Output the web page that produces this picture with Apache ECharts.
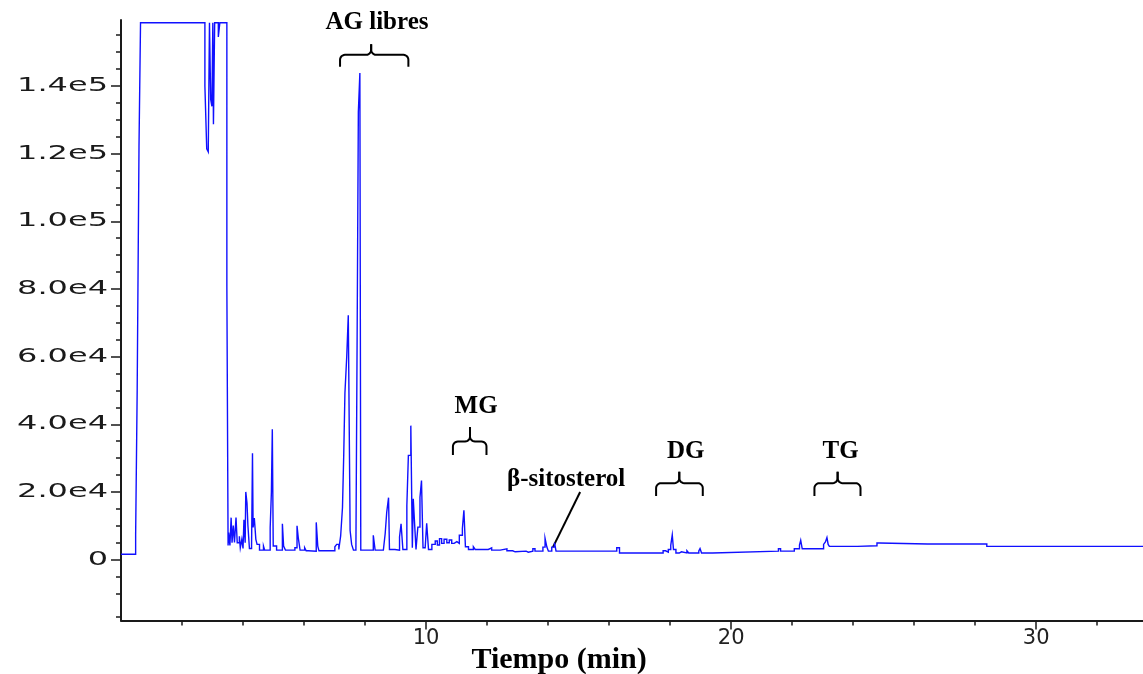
<!DOCTYPE html>
<html>
<head>
<meta charset="utf-8">
<script src="https://cdn.jsdelivr.net/npm/echarts@6/dist/echarts.min.js"></script>
<style>
  html, body { margin: 0; padding: 0; background: #fff; }
  #chart { width: 1143px; height: 674px; }
</style>
</head>
<body>
<div id="chart"></div>
<script>
// Retention time (min) of each step of the detector trace
const times = [
  0.00, 0.48, 0.53, 0.59, 0.64, 2.75, 2.81, 2.86, 2.90, 2.94, 2.98, 3.01, 3.03, 3.07, 3.19, 3.24,
  3.47, 3.51, 3.53, 3.57, 3.61, 3.64, 3.68, 3.72, 3.77, 3.81, 3.88, 3.91, 3.96, 4.00, 4.03, 4.07,
  4.09, 4.13, 4.16, 4.21, 4.28, 4.31, 4.33, 4.37, 4.42, 4.46, 4.54, 4.67, 4.71, 4.89, 4.93, 4.96,
  4.99, 5.10, 5.29, 5.33, 5.39, 5.70, 5.77, 5.81, 5.87, 6.02, 6.07, 6.14, 6.40, 6.45, 6.49, 7.01,
  7.07, 7.14, 7.20, 7.26, 7.30, 7.34, 7.40, 7.45, 7.51, 7.56, 7.62, 7.70, 7.74, 7.78, 7.83, 7.86,
  8.27, 8.33, 8.60, 8.66, 8.71, 8.77, 8.80, 8.98, 9.04, 9.13, 9.18, 9.24, 9.37, 9.42, 9.50, 9.55,
  9.58, 9.63, 9.67, 9.73, 9.80, 9.85, 9.90, 9.97, 10.02, 10.08, 10.19, 10.30, 10.37, 10.44, 10.51, 10.59,
  10.68, 10.76, 10.84, 10.92, 11.01, 11.09, 11.19, 11.24, 11.29, 11.39, 11.55, 11.61, 12.04, 12.15, 12.43, 12.65,
  12.84, 12.92, 13.28, 13.35, 13.50, 13.57, 13.83, 13.90, 13.96, 14.01, 14.12, 14.21, 14.26, 16.25, 16.34, 17.07,
  17.13, 17.63, 17.69, 17.77, 17.85, 17.94, 18.02, 18.07, 18.11, 18.19, 18.30, 18.37, 18.55, 18.61, 18.94, 18.98,
  19.03, 19.39, 21.55, 21.62, 22.07, 22.24, 22.28, 22.33, 23.03, 23.09, 23.14, 23.18, 23.22, 24.14, 24.78, 24.86,
  26.44, 26.50, 28.38, 33.50
];

// Detector response (counts) held from each time until the next one
const signal = [
  1600, 7400, 49700, 122000, 158700, 140000, 121400, 120500, 158700, 136000, 134000, 158700, 128700, 158700, 154500, 158700,
  81000, 4200, 8000, 4200, 12400, 5000, 10100, 5100, 12400, 5000, 6900, 3500, 6000, 3300, 11800, 5000,
  20000, 16700, 10100, 3300, 4000, 31400, 9500, 12300, 6000, 4500, 2800, 4000, 2800, 9500, 20000, 38500,
  4000, 2800, 10600, 4000, 2800, 3500, 10000, 6500, 2800, 3500, 2600, 2500, 11000, 4000, 2600, 3800,
  4500, 3000, 7000, 15400, 30600, 49200, 60100, 72200, 8600, 4500, 2800, 3500, 65600, 132300, 143800, 2800,
  7200, 2800, 3000, 7700, 14000, 18300, 3000, 3500, 2800, 6700, 10600, 3000, 16000, 30800, 39600, 3500,
  18000, 9600, 3000, 9600, 18400, 23400, 3500, 3000, 10700, 3000, 4500, 5500, 4300, 6200, 4800, 6000,
  5000, 5800, 4800, 5300, 4800, 7200, 9200, 14600, 3800, 3000, 3800, 3000, 3500, 2800, 3200, 2600,
  2300, 2500, 2200, 2500, 3200, 2500, 3700, 6300, 3700, 2500, 3700, 5000, 2500, 3500, 1950, 2300,
  1950, 2300, 1950, 2600, 2200, 3000, 4200, 7300, 3000, 1950, 2300, 1950, 2600, 1950, 2600, 3300,
  1950, 2500, 3200, 2500, 3200, 4300, 5700, 3200, 4500, 5200, 6500, 4500, 3900, 4100, 4900, 4600,
  4900, 4600, 3900, 3900
];

// Axis ticks and labels
const yTickValues = [0, 20000, 40000, 60000, 80000, 100000, 120000, 140000];
const yTickLabels = ['0', '2.0e4', '4.0e4', '6.0e4', '8.0e4', '1.0e5', '1.2e5', '1.4e5'];
const yMinorTicks = [-17000, -10000, -5000, 5000, 10000, 15000, 25000, 30000, 35000, 45000, 50000, 55000,
  65000, 70000, 75000, 85000, 90000, 95000, 105000, 110000, 115000, 125000, 130000, 135000,
  145000, 150000, 155000];
const xTickValues = [10, 20, 30];
const xTickLabels = ['10', '20', '30'];
const xMinorTicks = [2, 4, 6, 8, 12, 14, 16, 18, 22, 24, 26, 28, 32];

// Compound-class groups: bracket span (left, centre, right in min) and label
const groupNames = ['AG libres', 'MG', 'DG', 'TG'];
const groupSpans = [[7.18, 8.20, 9.42], [10.88, 11.44, 11.98], [17.54, 18.30, 19.07], [22.73, 23.49, 24.24]];

const Y_MIN = -18000, Y_MAX = 159500, X_MIN = 0, X_MAX = 33.5;

// Sample-and-hold trace: each reading is held until the next retention time
const stepData = [];
times.forEach((t, i) => {
  stepData.push([t, signal[i]]);
  if (i + 1 < times.length) stepData.push([times[i + 1], signal[i]]);
});

const chart = echarts.init(document.getElementById('chart'), null, { renderer: 'canvas' });

const axisColor = '#1a1a1a';

chart.setOption({
  animation: false,
  backgroundColor: '#ffffff',
  grid: { left: 121, right: 0, top: 20, bottom: 53.5, containLabel: false },
  xAxis: [
    {
      type: 'value', min: X_MIN, max: X_MAX, position: 'bottom',
      axisLine: { show: true, onZero: false, lineStyle: { color: axisColor, width: 2 } },
      axisTick: { show: true, length: 5, customValues: xMinorTicks, lineStyle: { color: axisColor, width: 1.5 } },
      axisLabel: {
        show: true, customValues: xTickValues, margin: 8,
        formatter: v => xTickLabels[xTickValues.indexOf(v)] || '',
        fontFamily: 'DejaVu Sans', fontSize: 21, color: '#222'
      },
      splitLine: { show: false }
    },
    {
      type: 'value', min: X_MIN, max: X_MAX, position: 'bottom', offset: 0,
      axisLine: { show: false, onZero: false },
      axisTick: { show: true, length: 9, customValues: xTickValues, lineStyle: { color: axisColor, width: 1.5 } },
      axisLabel: { show: false },
      splitLine: { show: false }
    }
  ],
  yAxis: [
    {
      type: 'value', min: Y_MIN, max: Y_MAX, position: 'left',
      axisLine: { show: true, onZero: false, lineStyle: { color: axisColor, width: 2 } },
      axisTick: { show: true, length: 10, customValues: yTickValues, lineStyle: { color: axisColor, width: 1.5 } },
      axisLabel: { show: false },
      splitLine: { show: false }
    },
    {
      type: 'value', min: Y_MIN, max: Y_MAX, position: 'left', offset: 0,
      axisLine: { show: false, onZero: false },
      axisTick: { show: true, length: 5, customValues: yMinorTicks, lineStyle: { color: axisColor, width: 1.5 } },
      axisLabel: { show: false },
      splitLine: { show: false }
    }
  ],
  series: [{
    type: 'line',
    xAxisIndex: 0,
    yAxisIndex: 0,
    data: stepData,
    showSymbol: false,
    symbol: 'none',
    clip: true,
    lineStyle: { color: '#1010ff', width: 1.4, join: 'miter' },
    emphasis: { disabled: true }
  }]
});

// Annotations placed through the axis scales
const px = (t, v) => chart.convertToPixel({ xAxisIndex: 0, yAxisIndex: 0 }, [t, v]);
const labelFont = 'bold 25px "Liberation Serif", "Times New Roman", serif';
const graphics = [];

function textEl(text, p, font) {
  return {
    type: 'text', x: p[0], y: p[1], silent: true,
    style: {
      text, font, fill: '#000',
      align: 'center', verticalAlign: 'middle',
      textAlign: 'center', textVerticalAlign: 'middle'
    }
  };
}

// Quarter-circle points from angle a0 to a1 around (cx, cy)
function arcPts(cx, cy, r, a0, a1) {
  const pts = [];
  for (let k = 0; k <= 6; k++) {
    const a = a0 + (a1 - a0) * k / 6;
    pts.push([cx + r * Math.cos(a), cy + r * Math.sin(a)]);
  }
  return pts;
}

function braceHalves(x1, xm, x2, yTip, yMid, yEnd) {
  const r = 5, P = Math.PI;
  const left = [[x1, yEnd]]
    .concat(arcPts(x1 + r, yMid + r, r, P, 1.5 * P))
    .concat(arcPts(xm - r, yMid - r, r, 0.5 * P, 0))
    .concat([[xm, yTip]]);
  const right = [[xm, yTip]]
    .concat(arcPts(xm + r, yMid - r, r, P, 0.5 * P))
    .concat(arcPts(x2 - r, yMid + r, r, 1.5 * P, 2 * P))
    .concat([[x2, yEnd]]);
  return [left, right];
}

// Bracket heights (signal units) and label centres for each group
const braceLevels = [[152300, 149200, 145700], [39200, 34900, 30900], [26000, 22600, 18800], [26000, 22600, 18800]];
const labelAnchors = [[8.39, 158600], [11.64, 45100], [18.51, 31800], [23.59, 31800]];

groupNames.forEach((name, i) => {
  const [a, m, b] = groupSpans[i];
  const [vt, vm, ve] = braceLevels[i];
  const x1 = px(a, vm)[0], xm = px(m, vm)[0], x2 = px(b, vm)[0];
  const yTip = px(m, vt)[1], yMid = px(m, vm)[1], yEnd = px(m, ve)[1];
  braceHalves(x1, xm, x2, yTip, yMid, yEnd).forEach(points => {
    graphics.push({
      type: 'polyline', silent: true,
      shape: { points },
      style: { fill: null, stroke: '#000', lineWidth: 2 }
    });
  });
  graphics.push(textEl(name, px(labelAnchors[i][0], labelAnchors[i][1]), labelFont));
});

// β-sitosterol label with its pointer
const sitoText = px(14.59, 23800);
const sitoFrom = px(15.05, 20000);
const sitoTo = px(14.16, 3700);
graphics.push(textEl('β-sitosterol', sitoText, labelFont));
graphics.push({
  type: 'line', silent: true,
  shape: { x1: sitoFrom[0], y1: sitoFrom[1], x2: sitoTo[0], y2: sitoTo[1] },
  style: { stroke: '#000', lineWidth: 2 }
});

// Y tick labels, drawn wide like the instrument's export font
yTickValues.forEach((v, i) => {
  const p = px(0, v);
  graphics.push({
    type: 'text', x: p[0] - 13, y: p[1], scaleX: 1.6, silent: true,
    style: {
      text: yTickLabels[i], font: '20px "DejaVu Sans", sans-serif', fill: '#1a1a1a',
      align: 'right', verticalAlign: 'middle', textAlign: 'right', textVerticalAlign: 'middle'
    }
  });
});

// X axis title
const titlePos = px(14.36, Y_MIN);
graphics.push(textEl('Tiempo (min)', [titlePos[0], titlePos[1] + 40], 'bold 30px "Liberation Serif", "Times New Roman", serif'));

chart.setOption({ graphic: { elements: graphics } });
</script>
</body>
</html>
